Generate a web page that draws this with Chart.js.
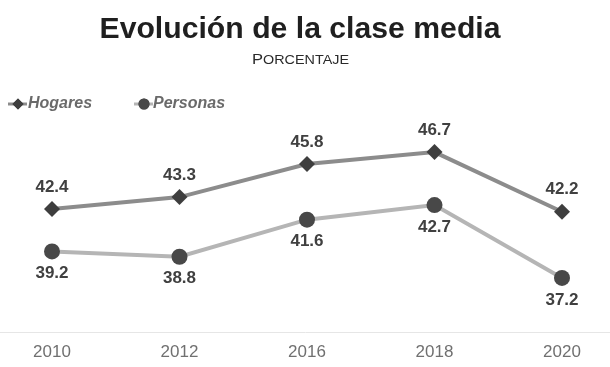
<!DOCTYPE html>
<html>
<head>
<meta charset="utf-8">
<script src="https://cdn.jsdelivr.net/npm/chart.js@4"></script>
<style>
  html, body { margin: 0; padding: 0; background: #fff; }
  #wrap { width: 610px; height: 367px; }
</style>
</head>
<body>
<div id="wrap"><canvas id="chart"></canvas></div>
<script>
// Data
const years = ['2010', '2012', '2016', '2018', '2020'];
const hogares = [42.4, 43.3, 45.8, 46.7, 42.2];
const personas = [39.2, 38.8, 41.6, 42.7, 37.2];

const title = 'Evolución de la clase media';
const subtitle = 'Porcentaje';

const FONT = '"Liberation Sans", Arial, sans-serif';

const toPoints = (values) => values.map((y, i) => ({ x: i, y }));

// Title, subtitle and legend drawn on the canvas
const headerPlugin = {
  id: 'header',
  afterDraw(chart) {
    const ctx = chart.ctx;
    ctx.save();

    // title
    ctx.font = `bold 30px ${FONT}`;
    ctx.fillStyle = '#1f1f1f';
    ctx.textBaseline = 'alphabetic';
    ctx.textAlign = 'center';
    const w = ctx.measureText(title).width;
    ctx.save();
    ctx.translate(300, 38);
    ctx.scale(Math.min(1.05, 401 / w), 1);
    ctx.fillText(title, 0, 0);
    ctx.restore();

    // subtitle in small caps
    const first = subtitle[0].toUpperCase();
    const rest = subtitle.slice(1).toUpperCase();
    ctx.textAlign = 'left';
    ctx.fillStyle = '#2a2a2a';
    ctx.font = `15px ${FONT}`;
    const w1 = ctx.measureText(first).width;
    ctx.font = `13px ${FONT}`;
    const w2 = ctx.measureText(rest).width;
    const sx2 = 97 / (w1 + w2);
    ctx.save();
    ctx.translate(252, 64);
    ctx.scale(sx2, 1);
    ctx.font = `15px ${FONT}`;
    ctx.fillText(first, 0, 0);
    ctx.font = `13px ${FONT}`;
    ctx.fillText(rest, w1, 0);
    ctx.restore();

    // legend
    const items = [
      { ds: chart.data.datasets[0], x: 8, textX: 28, r: 5.5 },
      { ds: chart.data.datasets[1], x: 134, textX: 153, r: 5.5 },
    ];
    const ly = 104;
    items.forEach(({ ds, x, textX, r }) => {
      ctx.strokeStyle = ds.borderColor;
      ctx.lineWidth = 3;
      ctx.beginPath();
      ctx.moveTo(x, ly);
      ctx.lineTo(x + 19, ly);
      ctx.stroke();
      ctx.fillStyle = ds.pointBackgroundColor;
      Chart.helpers.drawPoint(ctx, {
        pointStyle: ds.pointStyle,
        radius: r,
        rotation: 0,
        borderWidth: 0,
      }, x + 10, ly);
      ctx.fill();
      ctx.font = `italic bold 16px ${FONT}`;
      ctx.fillStyle = '#6a6a6a';
      ctx.textBaseline = 'middle';
      ctx.fillText(ds.label, textX, ly);
    });

    ctx.restore();
  },
};

// Value labels above (Hogares) and below (Personas) each point
const valueLabels = {
  id: 'valueLabels',
  afterDatasetsDraw(chart) {
    const ctx = chart.ctx;
    ctx.save();
    ctx.font = `bold 17px ${FONT}`;
    ctx.fillStyle = '#404040';
    ctx.textAlign = 'center';
    ctx.textBaseline = 'middle';
    chart.data.datasets.forEach((ds, di) => {
      const meta = chart.getDatasetMeta(di);
      meta.data.forEach((pt, i) => {
        const dy = di === 0 ? -22 : 22;
        ctx.fillText(ds.data[i].y.toFixed(1), pt.x, pt.y + dy);
      });
    });
    ctx.restore();
  },
};

new Chart(document.getElementById('chart'), {
  type: 'line',
  data: {
    datasets: [
      {
        label: 'Hogares',
        data: toPoints(hogares),
        borderColor: '#8c8c8c',
        borderWidth: 4,
        pointStyle: 'rectRot',
        pointRadius: 8,
        pointBackgroundColor: '#3e3e3e',
        pointBorderColor: '#3e3e3e',
        pointBorderWidth: 0,
        tension: 0,
      },
      {
        label: 'Personas',
        data: toPoints(personas),
        borderColor: '#b5b5b5',
        borderWidth: 4,
        pointStyle: 'circle',
        pointRadius: 8,
        pointBackgroundColor: '#484848',
        pointBorderColor: '#484848',
        pointBorderWidth: 0,
        tension: 0,
      },
    ],
  },
  options: {
    responsive: true,
    maintainAspectRatio: false,
    animation: false,
    layout: {
      autoPadding: false,
      padding: { top: 120, left: 0, right: 0, bottom: 0 },
    },
    plugins: {
      legend: { display: false },
      tooltip: { enabled: false },
    },
    scales: {
      x: {
        type: 'linear',
        position: 'bottom',
        min: -52 / 127.5,
        max: (610 - 52) / 127.5,
        afterBuildTicks: (axis) => {
          axis.ticks = years.map((_, i) => ({ value: i }));
        },
        afterFit: (axis) => {
          axis.height = 35;
        },
        grid: { display: false, drawTicks: false },
        border: { display: true, color: '#e6e6e6', width: 1 },
        ticks: {
          padding: 10,
          autoSkip: false,
          maxRotation: 0,
          color: '#707070',
          font: { size: 17, family: FONT },
          callback: (v) => years[v],
        },
      },
      y: {
        display: false,
        min: 33.12,
        max: 49.12,
      },
    },
  },
  plugins: [headerPlugin, valueLabels],
});
</script>
</body>
</html>
